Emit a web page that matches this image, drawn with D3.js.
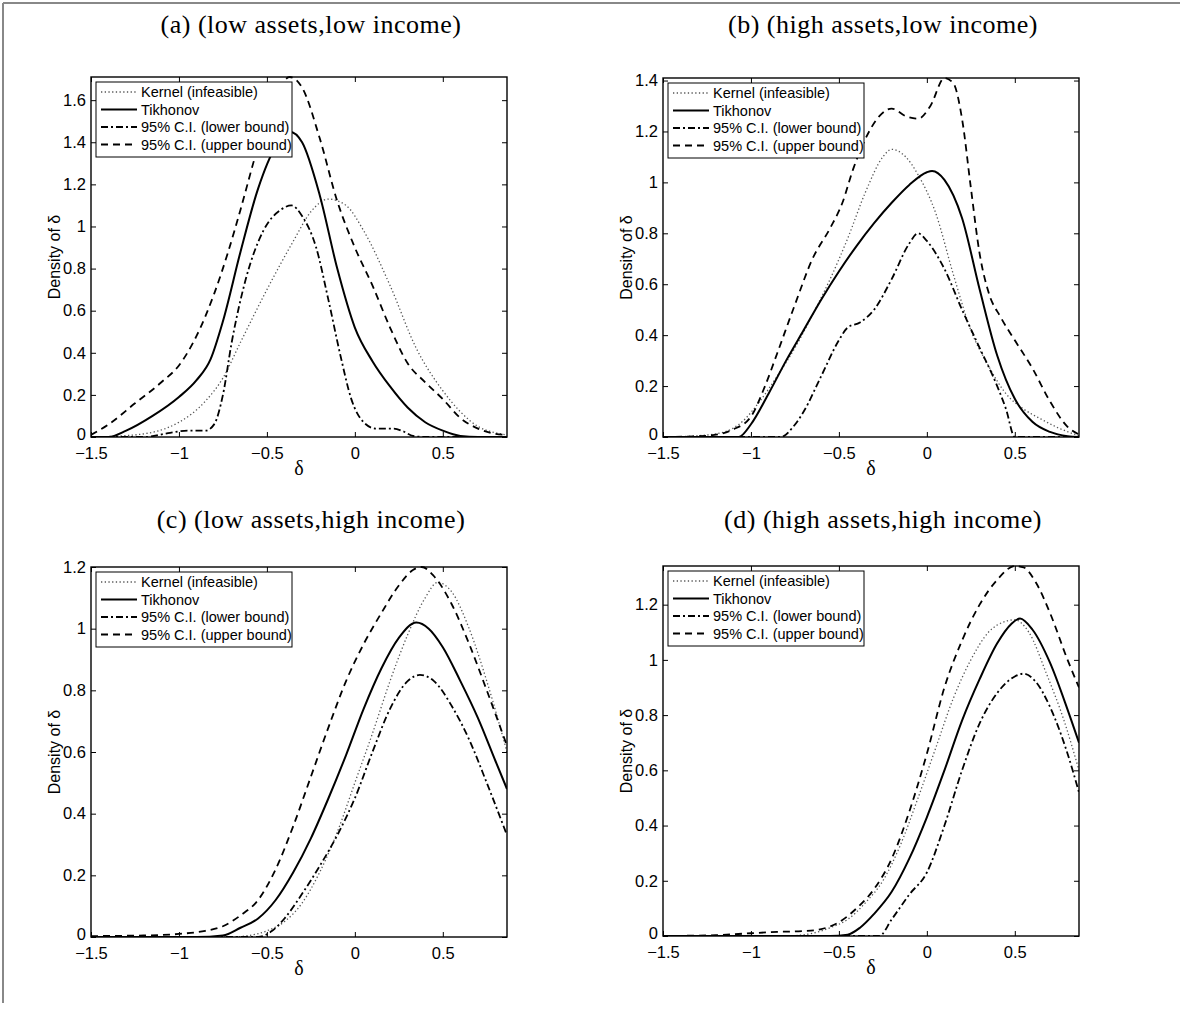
<!DOCTYPE html>
<html>
<head>
<meta charset="utf-8">
<script src="https://cdn.jsdelivr.net/npm/d3@7"></script>
<style>
  body { margin: 0; background: #fff; }
  .tick text { font-family: "Liberation Sans", Arial, sans-serif; font-size: 16.5px; fill: #000; }
  .tick line { stroke: #000; stroke-width: 1; }
  .title { font-family: "Liberation Serif", "DejaVu Serif", serif; font-size: 26px; letter-spacing: 0.5px; }
  .ylab { font-family: "Liberation Sans", Arial, sans-serif; font-size: 16px; }
  .xlab { font-family: "Liberation Serif", serif; font-size: 20px; }
  .leg { font-family: "Liberation Sans", Arial, sans-serif; font-size: 14.5px; }
</style>
</head>
<body>
<div id="js_chart"></div>
<script>
/*globals d3*/
'use strict';

// ---- data (delta, density) ----
const xDomain = [-1.5, 0.865];
const xTicks = [-1.5, -1, -0.5, 0, 0.5];
const seriesNames = ['Kernel (infeasible)', 'Tikhonov', '95% C.I. (lower bound)', '95% C.I. (upper bound)'];
const titles = ['(a) (low assets,low income)', '(b) (high assets,low income)',
                '(c) (low assets,high income)', '(d) (high assets,high income)'];
const yMax = [1.71, 1.41, 1.2, 1.34];
const yTicksA = [0, 0.2, 0.4, 0.6, 0.8, 1, 1.2, 1.4, 1.6];
const yTicksB = [0, 0.2, 0.4, 0.6, 0.8, 1, 1.2, 1.4];
const yTicksC = [0, 0.2, 0.4, 0.6, 0.8, 1, 1.2];
const yTicksD = [0, 0.2, 0.4, 0.6, 0.8, 1, 1.2];

const aKernel = [[-1.5,0],[-1.25,0.01],[-1,0.07],[-0.85,0.17],[-0.75,0.28],[-0.65,0.45],[-0.5,0.7],[-0.35,0.93],[-0.25,1.07],[-0.15,1.13],[-0.05,1.1],[0.05,0.98],[0.2,0.72],[0.35,0.42],[0.5,0.22],[0.6,0.12],[0.7,0.05],[0.8,0.02],[0.865,0.01]];
const aTikh = [[-1.5,0],[-1.4,0],[-1.3,0.03],[-1.15,0.1],[-1,0.19],[-0.9,0.27],[-0.82,0.37],[-0.75,0.55],[-0.65,0.88],[-0.55,1.18],[-0.45,1.38],[-0.37,1.45],[-0.3,1.4],[-0.2,1.15],[-0.1,0.8],[0,0.52],[0.1,0.36],[0.2,0.24],[0.3,0.14],[0.4,0.07],[0.5,0.03],[0.6,0.005],[0.7,0],[0.865,0]];
const aLower = [[-1.5,0],[-1.2,0],[-1.05,0.02],[-0.95,0.03],[-0.85,0.03],[-0.8,0.06],[-0.75,0.2],[-0.7,0.45],[-0.62,0.75],[-0.52,0.98],[-0.42,1.08],[-0.36,1.1],[-0.3,1.05],[-0.22,0.9],[-0.15,0.65],[-0.08,0.38],[-0.02,0.18],[0.05,0.07],[0.12,0.04],[0.22,0.04],[0.28,0.025],[0.33,0.005],[0.4,0],[0.865,0]];
const aUpper = [[-1.5,0.01],[-1.4,0.06],[-1.25,0.16],[-1.1,0.26],[-1,0.34],[-0.9,0.48],[-0.8,0.68],[-0.72,0.88],[-0.65,1.08],[-0.55,1.38],[-0.45,1.62],[-0.37,1.71],[-0.3,1.66],[-0.2,1.42],[-0.1,1.12],[0,0.9],[0.1,0.72],[0.2,0.52],[0.3,0.35],[0.4,0.26],[0.5,0.18],[0.6,0.09],[0.7,0.04],[0.8,0.015],[0.865,0.01]];

const bKernel = [[-1.5,0],[-1.3,0.005],[-1.15,0.02],[-1.05,0.06],[-0.95,0.14],[-0.85,0.24],[-0.75,0.35],[-0.65,0.48],[-0.55,0.62],[-0.45,0.78],[-0.35,0.96],[-0.25,1.1],[-0.2,1.13],[-0.12,1.1],[-0.05,1.03],[0.05,0.88],[0.15,0.64],[0.25,0.42],[0.35,0.28],[0.45,0.17],[0.55,0.11],[0.65,0.07],[0.75,0.035],[0.865,0.005]];
const bTikh = [[-1.5,0],[-1.07,0],[-1,0.05],[-0.9,0.17],[-0.8,0.3],[-0.7,0.42],[-0.6,0.54],[-0.5,0.65],[-0.4,0.75],[-0.3,0.84],[-0.2,0.92],[-0.1,0.99],[0,1.04],[0.03,1.045],[0.1,1.01],[0.2,0.86],[0.3,0.58],[0.4,0.32],[0.5,0.15],[0.6,0.06],[0.7,0.02],[0.8,0.003],[0.865,0]];
const bLower = [[-1.5,0],[-0.83,0],[-0.76,0.04],[-0.7,0.1],[-0.6,0.24],[-0.5,0.38],[-0.45,0.43],[-0.38,0.45],[-0.3,0.5],[-0.2,0.62],[-0.1,0.76],[-0.05,0.8],[0,0.77],[0.1,0.66],[0.2,0.5],[0.3,0.35],[0.4,0.2],[0.45,0.11],[0.5,0],[0.865,0]];
const bUpper = [[-1.5,0],[-1.25,0.005],[-1.1,0.03],[-1,0.08],[-0.92,0.2],[-0.85,0.33],[-0.75,0.52],[-0.65,0.7],[-0.55,0.82],[-0.48,0.92],[-0.42,1.05],[-0.35,1.17],[-0.27,1.26],[-0.2,1.29],[-0.12,1.26],[-0.05,1.25],[0.02,1.3],[0.1,1.41],[0.15,1.39],[0.2,1.25],[0.25,0.98],[0.3,0.72],[0.35,0.57],[0.42,0.47],[0.5,0.38],[0.6,0.27],[0.7,0.14],[0.8,0.04],[0.865,0.01]];

const cKernel = [[-1.5,0],[-0.7,0],[-0.6,0.005],[-0.5,0.02],[-0.4,0.05],[-0.3,0.11],[-0.2,0.21],[-0.1,0.34],[0,0.5],[0.1,0.66],[0.2,0.83],[0.3,0.98],[0.4,1.1],[0.47,1.15],[0.55,1.12],[0.65,1.0],[0.75,0.83],[0.865,0.6]];
const cTikh = [[-1.5,0],[-0.9,0],[-0.75,0.005],[-0.65,0.03],[-0.55,0.06],[-0.45,0.12],[-0.35,0.21],[-0.25,0.32],[-0.15,0.45],[-0.05,0.59],[0.05,0.74],[0.15,0.87],[0.25,0.97],[0.35,1.02],[0.42,1.0],[0.5,0.94],[0.6,0.83],[0.7,0.71],[0.8,0.57],[0.865,0.48]];
const cLower = [[-1.5,0],[-0.55,0],[-0.47,0.02],[-0.4,0.06],[-0.3,0.14],[-0.2,0.23],[-0.1,0.33],[0,0.45],[0.1,0.6],[0.2,0.74],[0.3,0.83],[0.37,0.85],[0.45,0.83],[0.55,0.75],[0.65,0.64],[0.75,0.5],[0.865,0.33]];
const cUpper = [[-1.5,0.003],[-1.2,0.005],[-1,0.01],[-0.85,0.02],[-0.75,0.035],[-0.65,0.07],[-0.55,0.12],[-0.45,0.22],[-0.35,0.36],[-0.25,0.52],[-0.15,0.68],[-0.05,0.83],[0.05,0.95],[0.15,1.05],[0.25,1.14],[0.33,1.19],[0.38,1.2],[0.45,1.17],[0.55,1.08],[0.65,0.95],[0.75,0.8],[0.865,0.62]];

const dKernel = [[-1.5,0],[-0.8,0],[-0.65,0.01],[-0.55,0.03],[-0.45,0.06],[-0.35,0.12],[-0.25,0.2],[-0.15,0.33],[-0.05,0.5],[0.05,0.68],[0.15,0.86],[0.25,1.0],[0.35,1.1],[0.45,1.14],[0.5,1.145],[0.58,1.1],[0.68,0.95],[0.78,0.78],[0.865,0.6]];
const dTikh = [[-1.5,0],[-0.55,0],[-0.45,0.005],[-0.38,0.03],[-0.3,0.08],[-0.2,0.16],[-0.1,0.28],[0,0.43],[0.1,0.6],[0.2,0.78],[0.3,0.93],[0.4,1.06],[0.48,1.13],[0.53,1.15],[0.6,1.11],[0.7,0.99],[0.8,0.82],[0.865,0.7]];
const dLower = [[-1.5,0],[-0.27,0],[-0.2,0.06],[-0.1,0.15],[0,0.23],[0.1,0.4],[0.2,0.6],[0.3,0.77],[0.4,0.88],[0.5,0.94],[0.55,0.95],[0.62,0.92],[0.7,0.83],[0.8,0.66],[0.865,0.52]];
const dUpper = [[-1.5,0],[-1.2,0.003],[-1,0.01],[-0.85,0.015],[-0.7,0.018],[-0.6,0.025],[-0.5,0.05],[-0.4,0.1],[-0.3,0.17],[-0.2,0.28],[-0.1,0.45],[0,0.66],[0.1,0.9],[0.2,1.07],[0.3,1.2],[0.4,1.29],[0.5,1.34],[0.55,1.335],[0.62,1.28],[0.7,1.17],[0.8,1.0],[0.865,0.9]];

// ---- layout ----
const width = 1180, height = 1015;
const panels = [
  { left: 91,  top: 77,  w: 416, h: 360, titleY: 33,  yTicks: yTicksA, series: [aKernel, aTikh, aLower, aUpper] },
  { left: 663, top: 78,  w: 416, h: 359, titleY: 33,  yTicks: yTicksB, series: [bKernel, bTikh, bLower, bUpper] },
  { left: 91,  top: 567, w: 416, h: 370, titleY: 528, yTicks: yTicksC, series: [cKernel, cTikh, cLower, cUpper] },
  { left: 663, top: 566, w: 416, h: 370, titleY: 528, yTicks: yTicksD, series: [dKernel, dTikh, dLower, dUpper] }
];
const styles = [
  { stroke: '#555', width: 1.3, dash: '1.3,2.4' },
  { stroke: '#000', width: 2,   dash: null },
  { stroke: '#000', width: 1.8, dash: '7,3,2,3' },
  { stroke: '#000', width: 1.8, dash: '7,5' }
];
const fmt = function (v) { return v < 0 ? '\u2212' + Math.abs(v) : String(v); };

const svg = d3.select('#js_chart').append('svg')
  .attr('width', width).attr('height', height);

// page frame (top and left edge only)
svg.append('line').attr('x1', 3).attr('y1', 3).attr('x2', width).attr('y2', 3)
  .style('stroke', '#888').style('stroke-width', 2);
svg.append('line').attr('x1', 3).attr('y1', 3).attr('x2', 3).attr('y2', 1003)
  .style('stroke', '#888').style('stroke-width', 2);

function drawPanel(p, i) {
  const x = d3.scaleLinear().domain(xDomain).range([0, p.w]);
  const y = d3.scaleLinear().domain([0, yMax[i]]).range([p.h, 0]);
  const g = svg.append('g').attr('transform', 'translate(' + p.left + ',' + p.top + ')');

  // title
  svg.append('text').classed('title', true)
    .attr('x', p.left + p.w / 2 + 12).attr('y', p.titleY)
    .attr('text-anchor', 'middle').text(titles[i]);

  // axes with inward ticks
  const bottom = g.append('g').attr('transform', 'translate(0,' + p.h + ')')
    .call(d3.axisBottom(x).tickValues(xTicks).tickSize(-5).tickPadding(10).tickFormat(fmt));
  const topAx = g.append('g')
    .call(d3.axisTop(x).tickValues(xTicks).tickSize(-5).tickFormat(''));
  const leftAx = g.append('g')
    .call(d3.axisLeft(y).tickValues(p.yTicks).tickSize(-5).tickPadding(5).tickFormat(d3.format('')));
  const rightAx = g.append('g').attr('transform', 'translate(' + p.w + ',0)')
    .call(d3.axisRight(y).tickValues(p.yTicks).tickSize(-5).tickFormat(''));
  [bottom, topAx, leftAx, rightAx].forEach(function (a) { a.select('.domain').remove(); });
  bottom.selectAll('text').attr('dy', '0.71em');
  // lift the bottom "0" a little so it does not sit on the first x label
  leftAx.selectAll('.tick text').filter(function (d) { return d === 0; }).attr('dy', '0.15em');

  // clip + curves
  const clipId = 'clip' + i;
  g.append('clipPath').attr('id', clipId).append('rect')
    .attr('x', 0).attr('y', -1).attr('width', p.w).attr('height', p.h + 1);
  const line = d3.line()
    .x(function (d) { return x(d[0]); })
    .y(function (d) { return y(d[1]); })
    .curve(d3.curveMonotoneX);
  p.series.forEach(function (s, k) {
    g.append('path').datum(s)
      .attr('clip-path', 'url(#' + clipId + ')')
      .attr('d', line)
      .style('fill', 'none')
      .style('stroke', styles[k].stroke)
      .style('stroke-width', styles[k].width)
      .style('stroke-dasharray', styles[k].dash);
  });

  // box
  g.append('rect').attr('x', 0).attr('y', 0).attr('width', p.w).attr('height', p.h)
    .style('fill', 'none').style('stroke', '#000').style('stroke-width', 1.4);

  // axis labels
  g.append('text').classed('xlab', true)
    .attr('x', p.w / 2).attr('y', p.h + 38).attr('text-anchor', 'middle').text('\u03b4');
  g.append('text').classed('ylab', true)
    .attr('transform', 'translate(-31,' + (p.h / 2) + ') rotate(-90)')
    .attr('text-anchor', 'middle').text('Density of \u03b4');

  // legend
  const leg = g.append('g').attr('transform', 'translate(5,5)');
  leg.append('rect').attr('width', 196).attr('height', 75)
    .style('fill', '#fff').style('stroke', '#000').style('stroke-width', 1);
  seriesNames.forEach(function (n, k) {
    const ly = 10 + k * 17.5;
    leg.append('line').attr('x1', 5).attr('x2', 41).attr('y1', ly).attr('y2', ly)
      .style('stroke', styles[k].stroke).style('stroke-width', styles[k].width)
      .style('stroke-dasharray', styles[k].dash);
    leg.append('text').classed('leg', true).attr('x', 45).attr('y', ly + 5).text(n);
  });
}

panels.forEach(drawPanel);
</script>
</body>
</html>
